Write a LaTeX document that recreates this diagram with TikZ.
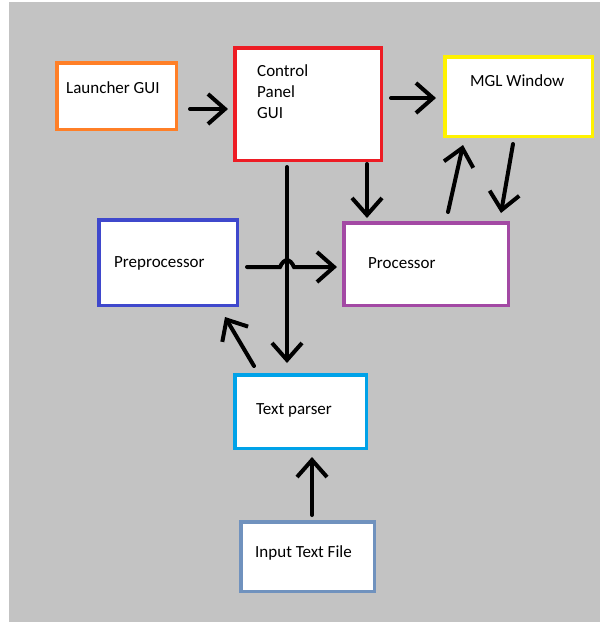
\documentclass[tikz,border=0pt]{standalone}
\usepackage{fontspec}
\setmainfont{Carlito}
\usetikzlibrary{arrows.meta,calc}
\definecolor{bg}{HTML}{C3C3C3}
\definecolor{cOrange}{HTML}{FF7F27}
\definecolor{cRed}{HTML}{ED1C24}
\definecolor{cYellow}{HTML}{FFF200}
\definecolor{cBlue}{HTML}{3F48CC}
\definecolor{cPurple}{HTML}{A349A4}
\definecolor{cCyan}{HTML}{00A2E8}
\definecolor{cSteel}{HTML}{7092BE}
\begin{document}
\begin{tikzpicture}[x=1pt,y=-1pt,
  box/.style={draw, fill=white, line width=3.5pt, inner sep=0pt},
  lbl/.style={anchor=base west, inner sep=0pt, font=\fontsize{17}{21}\selectfont, align=left},
  arr/.style={line width=4pt, line cap=round, -{Straight Barb[length=17pt,width=30pt,line width=4pt]}}]
\useasboundingbox (0,0) rectangle (600,625);
\fill[bg] (9,2) rectangle (600,622);
% boxes
\node[box, draw=cOrange, minimum width=119.5pt, minimum height=66.5pt] (launch) at (116.5,96) {};
\node[box, draw=cRed, minimum width=146.5pt, minimum height=112.5pt] (ctrl) at (308,104) {};
\node[box, draw=cYellow, minimum width=147.5pt, minimum height=79.5pt] (mgl) at (518.5,96.5) {};
\node[box, draw=cBlue, minimum width=138.5pt, minimum height=85.5pt] (pre) at (168,262.5) {};
\node[box, draw=cPurple, minimum width=164.5pt, minimum height=82.5pt] (proc) at (426,264) {};
\node[box, draw=cCyan, minimum width=131.5pt, minimum height=73.5pt] (parser) at (300.5,411.5) {};
\node[box, draw=cSteel, minimum width=133.5pt, minimum height=69.5pt] (input) at (307.5,556.5) {};
% labels
\node[lbl] (launchT) at (66,93) {Launcher GUI};
\node[lbl] (ctrlT) at (257,118) {Control\\Panel\\GUI};
\node[lbl] (mglT) at (470,86) {MGL Window};
\node[lbl] (preT) at (114,267) {Preprocessor};
\node[lbl] (procT) at (368,268) {Processor};
\node[lbl] (parserT) at (256,414) {Text parser};
\node[lbl] (inputT) at (255,557) {Input Text File};
% connectors
\draw[arr] ($(launch.east)+(12,13)$) -- ($(ctrl.west)+(-5,5)$);
\draw[arr] ($(ctrl.east)+(8,-6)$) -- ($(mgl.west)+(-7,1.5)$);
\draw[arr] ($(ctrl.south)+(59,2)$) -- ($(proc.north)+(-59,-3)$);
\draw[arr] ($(proc.north)+(22,-9)$) -- ($(mgl.south)+(-55.5,7)$);
\draw[arr] ($(mgl.south)+(-5.5,6)$) -- ($(proc.north)+(75,-8)$);
\coordinate (vtop) at ($(ctrl.south)+(-21,5)$);
\coordinate (hstart) at ($(pre.east)+(8,4.5)$);
\draw[arr] (vtop) -- ($(parser.north)+(-13.5,-10)$);
\coordinate (hop) at (vtop |- hstart);
\draw[arr] (hstart) -- ($(hop)+(-7,0)$)
  .. controls ($(hop)+(-3,-9)$) and ($(hop)+(3,-9)$) .. ($(hop)+(7,0)$)
  -- ($(proc.west)+(-5,3)$);
\draw[arr] ($(parser.north)+(-46.5,-7)$) -- ($(pre.south)+(57,10)$);
\draw[arr] ($(input.north)+(4.5,-5)$) -- ($(parser.south)+(11.5,7)$);
\end{tikzpicture}
\end{document}
